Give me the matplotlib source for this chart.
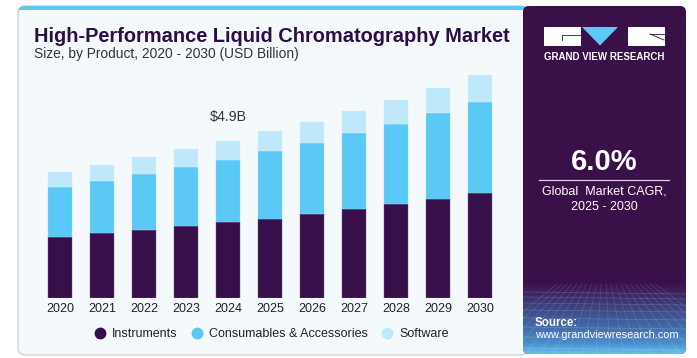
import matplotlib
matplotlib.use("Agg")
import matplotlib.pyplot as plt
import numpy as np
from matplotlib.patches import FancyBboxPatch, Rectangle, Polygon
from matplotlib.colors import LinearSegmentedColormap
from matplotlib.lines import Line2D

plt.rcParams['font.family'] = ['Liberation Sans', 'DejaVu Sans']

# ---------------- data (USD Billion) ----------------
years = ["2020", "2021", "2022", "2023", "2024", "2025", "2026", "2027", "2028", "2029", "2030"]
instruments = [1.92, 2.02, 2.12, 2.25, 2.36, 2.48, 2.62, 2.77, 2.92, 3.10, 3.26]
consumables = [1.55, 1.63, 1.74, 1.83, 1.95, 2.10, 2.22, 2.36, 2.51, 2.67, 2.85]
software = [0.47, 0.51, 0.53, 0.56, 0.59, 0.62, 0.65, 0.69, 0.74, 0.77, 0.82]
series_names = ["Instruments", "Consumables & Accessories", "Software"]
highlight_year = "2024"
highlight_label = "$4.9B"
cagr = "6.0%"

C_INST = "#37104a"
C_CONS = "#5bc9f5"
C_SOFT = "#bfe9fa"
DARK = "#3a1049"

W, H = 697, 358
fig = plt.figure(figsize=(W / 100, H / 100), dpi=100)
fig.patch.set_facecolor("white")

# background layer in pixel coordinates
bg = fig.add_axes([0, 0, 1, 1])
bg.set_xlim(0, W)
bg.set_ylim(H, 0)
bg.axis("off")

panel = FancyBboxPatch((18, 6), 510, 349, boxstyle="round,pad=0,rounding_size=7",
                       facecolor="#f4f9fc", edgecolor="#cfd3d7", lw=1.0)
bg.add_patch(panel)
strip = Rectangle((18, 5), 510, 4.5, facecolor=C_CONS, edgecolor="none")
bg.add_patch(strip)
strip.set_clip_path(panel)

side = FancyBboxPatch((523, 6), 163, 348, boxstyle="round,pad=0,rounding_size=6",
                      facecolor=DARK, edgecolor="none", zorder=2)
bg.add_patch(side)

# gradient at the bottom of the side panel
cmap = LinearSegmentedColormap.from_list(
    "grad", [(0, DARK), (0.2, "#3c2d6a"), (0.55, "#40609e"), (0.85, "#4a8ccb"), (1, "#62c0ec")])
grad = np.linspace(0, 1, 100).reshape(-1, 1)
im = bg.imshow(grad, cmap=cmap, extent=(523, 686, 354, 282), origin="upper",
               aspect="auto", zorder=3)
im.set_clip_path(side)
# faint mesh
for yy in [292, 297, 303, 310, 318, 327, 337, 348]:
    ln, = bg.plot([523, 686], [yy, yy + 2], color="white", lw=0.5, alpha=0.18, zorder=4)
    ln.set_clip_path(side)
for xx in np.arange(470, 760, 14):
    ln, = bg.plot([604 + (xx - 604) * 0.35, xx], [284, 354], color="white", lw=0.5,
                  alpha=0.15, zorder=4)
    ln.set_clip_path(side)

# logo
bg.add_patch(Rectangle((544, 27), 37, 18.5, facecolor="white", edgecolor="none", zorder=5))
bg.plot([562, 581], [35, 35], color=DARK, lw=0.6, zorder=6)
bg.plot([562, 562], [35, 40], color=DARK, lw=0.6, zorder=6)
bg.add_patch(Polygon([[582, 27], [618, 27], [600, 45.5]], closed=True,
                     facecolor=C_CONS, edgecolor="none", zorder=5))
bg.add_patch(Rectangle((628, 27), 36.5, 18.5, facecolor="white", edgecolor="none", zorder=5))
bg.plot([650, 664], [34, 34], color=DARK, lw=0.6, zorder=6)
bg.plot([650, 664], [34, 40], color=DARK, lw=0.6, zorder=6)
bg.text(604.5, 57, "GRAND VIEW RESEARCH", color="white", fontsize=7.0, fontweight="bold",
        ha="center", va="center", zorder=6)

bg.text(604, 162, cagr, color="white", fontsize=21, fontweight="bold",
        ha="center", va="center", zorder=6)
bg.plot([539, 669], [180, 180], color="#d8d0e0", lw=0.9, zorder=6)
bg.text(604, 192, "Global  Market CAGR,", color="white", fontsize=9,
        ha="center", va="center", zorder=6)
bg.text(604, 207, "2025 - 2030", color="white", fontsize=9,
        ha="center", va="center", zorder=6)
bg.text(535, 323, "Source:", color="white", fontsize=8.3, fontweight="bold",
        ha="left", va="center", zorder=6)
bg.text(535, 335, "www.grandviewresearch.com", color="white", fontsize=7.9,
        ha="left", va="center", zorder=6)

# titles
bg.text(34, 37, "High-Performance Liquid Chromatography Market", color="#2d0d45",
        fontsize=14.4, fontweight="heavy", ha="left", va="center")
bg.text(34, 54, "Size, by Product, 2020 - 2030 (USD Billion)", color="#333333",
        fontsize=9.9, ha="left", va="center")

# ---------------- bars ----------------
ax = fig.add_axes([39 / W, 59.7 / H, 462 / W, 241.2 / H])
ax.set_facecolor("none")
x = np.arange(len(years))
inst = np.array(instruments)
cons = np.array(consumables)
soft = np.array(software)
bw = 0.555
ax.bar(x, inst, bw, color=C_INST, edgecolor="#6a5580", lw=0.3)
ax.bar(x, cons, bw, bottom=inst, color=C_CONS, edgecolor="#8fd6f5", lw=0.3)
ax.bar(x, soft, bw, bottom=inst + cons, color=C_SOFT, edgecolor="#d6f1fb", lw=0.3)
ax.set_xlim(-0.5, len(years) - 0.5)
ax.set_ylim(0, 7.5)
for s in ax.spines.values():
    s.set_visible(False)
ax.set_yticks([])
ax.set_xticks(x, years)
ax.tick_params(axis="x", length=0, pad=3.5, labelsize=9, labelcolor="#222222")

hi = years.index(highlight_year)
tot = inst[hi] + cons[hi] + soft[hi]
ax.annotate(highlight_label, (x[hi], tot), xytext=(0, 17), textcoords="offset points",
            ha="center", va="center", fontsize=10.2, color="#333333")

handles = [Line2D([], [], marker="o", ls="none", markersize=7.5, color=c)
           for c in [C_INST, C_CONS, C_SOFT]]
fig.legend(handles, series_names, loc="center", bbox_to_anchor=(272 / W, 1 - 334 / H),
           ncol=3, frameon=False, fontsize=9, handletextpad=0.55, columnspacing=1.15,
           handlelength=0.8, labelcolor="#222222")

fig.savefig("out.png", dpi=100)
